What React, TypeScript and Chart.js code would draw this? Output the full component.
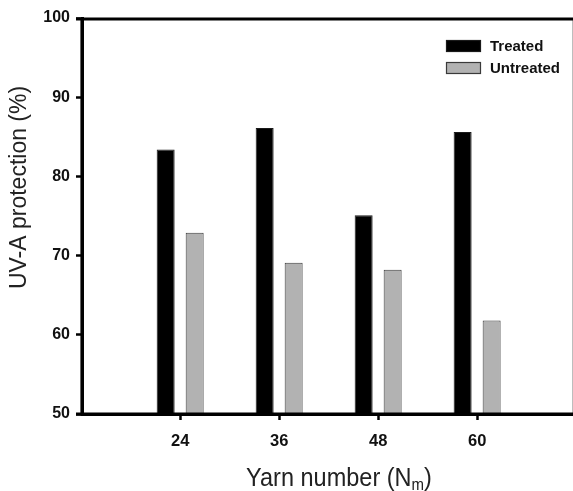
import React, { useEffect, useRef } from 'react';
import { Chart, registerables } from 'chart.js';

Chart.register(...registerables);

const YARN_NUMBERS = [24, 36, 48, 60];
const TREATED = [83.4, 86.1, 75.1, 85.6];
const UNTREATED = [72.9, 69.1, 68.2, 61.8];
const SERIES_LABELS = ['Treated', 'Untreated'];
const Y_TICKS = [50, 60, 70, 80, 90, 100];
const X_TITLE_MAIN = 'Yarn number (N';
const X_TITLE_SUB = 'm';
const X_TITLE_END = ')';
const Y_TITLE = 'UV-A protection (%)';

const FONT = '"Liberation Sans", Arial, Helvetica, sans-serif';
const COLORS = ['#000000', '#b2b2b2'];
const BORDERS = ['#1a1a1a', '#3a3a3a'];

const W = 573;
const H = 491;

const framePlugin = {
  id: 'frame',
  afterDraw(chart: any) {
    const { ctx, chartArea } = chart;
    const { left, right, top, bottom } = chartArea;
    ctx.save();
    // right thin border
    ctx.strokeStyle = '#bdbdbd';
    ctx.lineWidth = 1;
    ctx.beginPath();
    ctx.moveTo(right + 0.5, top);
    ctx.lineTo(right + 0.5, bottom);
    ctx.stroke();
    // top, bottom, left thick lines
    ctx.strokeStyle = '#000';
    ctx.lineWidth = 3.2;
    ctx.beginPath();
    ctx.moveTo(left - 6, top + 1);
    ctx.lineTo(W, top + 1);
    ctx.stroke();
    ctx.beginPath();
    ctx.moveTo(left - 6, bottom);
    ctx.lineTo(W, bottom);
    ctx.stroke();
    ctx.beginPath();
    ctx.moveTo(left, top);
    ctx.lineTo(left, bottom + 1.5);
    ctx.stroke();

    // legend
    const ds = chart.data.datasets;
    const boxX = 446;
    const boxW = 35;
    const boxH = 12;
    const rowY = [46, 68];
    ctx.font = `bold 15px ${FONT}`;
    ctx.textBaseline = 'middle';
    ctx.textAlign = 'left';
    ds.forEach((d: any, i: number) => {
      const cy = rowY[i];
      ctx.fillStyle = d.backgroundColor;
      ctx.fillRect(boxX, cy - boxH / 2, boxW, boxH);
      ctx.strokeStyle = d.borderColor;
      ctx.lineWidth = 1.2;
      ctx.strokeRect(boxX + 0.5, cy - boxH / 2 + 0.5, boxW - 1, boxH - 1);
      ctx.fillStyle = '#111';
      ctx.fillText(d.label, 490, cy + 1);
    });

    // x title with subscript
    const mainFont = `23.5px ${FONT}`;
    const subFont = `15px ${FONT}`;
    ctx.font = mainFont;
    const w1 = ctx.measureText(X_TITLE_MAIN).width;
    const w3 = ctx.measureText(X_TITLE_END).width;
    ctx.font = subFont;
    const w2 = ctx.measureText(X_TITLE_SUB).width;
    const total = w1 + w2 + w3;
    const cx = 339;
    let x = cx - total / 2;
    const baseY = 486;
    ctx.fillStyle = '#222';
    ctx.textBaseline = 'alphabetic';
    ctx.save();
    ctx.translate(0, baseY);
    ctx.scale(1, 1.12);
    ctx.font = mainFont;
    ctx.fillText(X_TITLE_MAIN, x, 0);
    x += w1;
    ctx.font = subFont;
    ctx.fillText(X_TITLE_SUB, x, 3.5);
    x += w2;
    ctx.font = mainFont;
    ctx.fillText(X_TITLE_END, x, 0);
    ctx.restore();

    // y title
    ctx.save();
    ctx.translate(26, 187.5);
    ctx.rotate(-Math.PI / 2);
    ctx.font = `23px ${FONT}`;
    ctx.textAlign = 'center';
    ctx.textBaseline = 'alphabetic';
    ctx.fillStyle = '#222';
    ctx.fillText(Y_TITLE, 0, 0);
    ctx.restore();

    ctx.restore();
  },
};

export default function App() {
  const ref = useRef<HTMLCanvasElement | null>(null);

  useEffect(() => {
    if (!ref.current) return;
    const series = [TREATED, UNTREATED];
    const chart = new Chart(ref.current, {
      type: 'bar',
      data: {
        datasets: series.map((vals, s) => ({
          label: SERIES_LABELS[s],
          data: YARN_NUMBERS.map((x, i) => ({ x, y: vals[i] })),
          backgroundColor: COLORS[s],
          borderColor: BORDERS[s],
          borderWidth: 1,
          borderSkipped: 'start',
          base: 50,
          categoryPercentage: 0.586,
          barPercentage: 0.62,
        })),
      },
      options: {
        animation: false,
        responsive: false,
        devicePixelRatio: 1,
        layout: { padding: { left: 0, top: 18, right: 1, bottom: 0 } },
        plugins: {
          legend: { display: false },
          tooltip: { enabled: false },
          title: { display: false },
        },
        scales: {
          x: {
            type: 'linear',
            min: 12.1,
            max: 71.5,
            offset: false,
            afterBuildTicks: (axis: any) => {
              axis.ticks = YARN_NUMBERS.map((v) => ({ value: v }));
            },
            afterFit: (axis: any) => {
              axis.height = H - 414;
            },
            grid: {
              display: true,
              drawOnChartArea: false,
              drawTicks: true,
              tickLength: 6,
              tickWidth: 2.5,
              tickColor: '#000',
              offset: false,
            },
            border: { display: true, color: '#000', width: 3 },
            ticks: {
              padding: 12,
              color: '#111',
              font: { family: FONT, size: 16.5, weight: 'bold' },
              maxRotation: 0,
              autoSkip: false,
              callback: (v: any) => String(v),
            },
          },
          y: {
            type: 'linear',
            min: 50,
            max: 100,
            afterBuildTicks: (axis: any) => {
              axis.ticks = Y_TICKS.map((v) => ({ value: v }));
            },
            afterFit: (axis: any) => {
              axis.width = 82;
            },
            grid: {
              display: true,
              drawOnChartArea: false,
              drawTicks: true,
              tickLength: 6,
              tickWidth: 2.5,
              tickColor: '#000',
            },
            border: { display: true, color: '#000', width: 3 },
            ticks: {
              padding: 6,
              color: '#111',
              font: { family: FONT, size: 16, weight: 'bold' },
              callback: (v: any) => String(v),
            },
          },
        },
      },
      plugins: [framePlugin],
    } as any);
    return () => chart.destroy();
  }, []);

  return (
    <div style={{ position: 'fixed', left: 0, top: 0, width: W, height: H, background: '#fff' }}>
      <canvas ref={ref} width={W} height={H} style={{ display: 'block', width: W, height: H }} />
    </div>
  );
}
